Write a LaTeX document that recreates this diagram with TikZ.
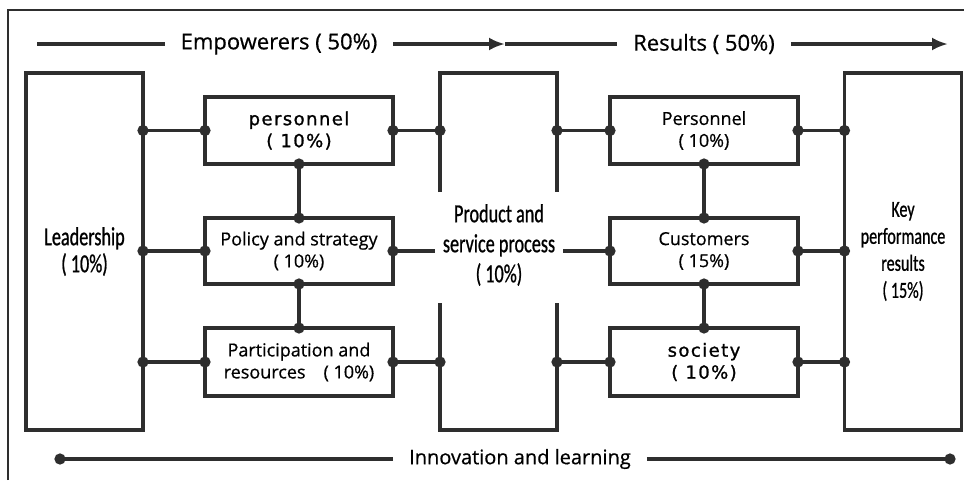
\documentclass[tikz,border=0pt]{standalone}
\usepackage{fontspec}
\setmainfont[FakeBold=0.6]{Open Sans}
\newfontfamily\widefont[LetterSpace=8,FakeBold=1.2]{DejaVu Sans}
\newfontfamily\narrowfont[FakeStretch=0.7,FakeBold=0.8]{Carlito}
\usetikzlibrary{positioning,calc,arrows.meta}
\definecolor{linegray}{HTML}{2E2E2E}

\tikzset{
  box/.style={draw=linegray, line width=3.2pt, minimum width=188pt, minimum height=67pt,
    inner sep=0pt, outer sep=0pt, align=center, font=\fontsize{18}{22}\selectfont},
  tall/.style={draw=linegray, line width=3.2pt, minimum width=117pt, minimum height=357pt,
    inner sep=0pt, outer sep=0pt, align=center, font=\narrowfont\fontsize{26}{27}\selectfont},
  title/.style={inner xsep=16pt, inner ysep=0pt, outer sep=0pt, font=\fontsize{22}{26}\selectfont},
  wall/.style={draw=linegray, line width=3.2pt},
  link/.style={draw=linegray, line width=3.2pt, {Circle[length=11pt]}-{Circle[length=11pt]},
    shorten <=-5.5pt, shorten >=-5.5pt},
  linkout/.style={draw=linegray, line width=3.2pt, {Circle[length=11pt]}-, shorten <=-5.5pt},
  linkin/.style={draw=linegray, line width=3.2pt, -{Circle[length=11pt]}, shorten >=-5.5pt},
  flow/.style={draw=linegray, line width=3.2pt, -{Latex[length=16pt,width=13pt]}},
}

\begin{document}
\begin{tikzpicture}[x=1pt,y=-1pt]
\useasboundingbox (0,0) rectangle (964,480);

% page frame
\draw[linegray, line width=1.6pt] (8,480) -- (8,10) -- (964,10);

% headings
\node[title] (empw) at (279,44) {Empowerers ( 50\%)};
\node[title] (res) at (704,44) {Results ( 50\%)};
\node[title, font=\fontsize{20}{24}\selectfont] (innov) at (520,459) {Innovation and learning};

\coordinate (topL) at (37,44);
\coordinate (midA) at (505,44);
\coordinate (topR) at (948,44);
\coordinate (innL) at (60,459);
\coordinate (innR) at (950,459);

\draw[wall] (topL) -- (empw.west);
\draw[flow] (empw.east) -- (midA);
\draw[wall] (midA) -- (res.west);
\draw[flow] (res.east) -- (topR);
\draw[linkin] (innov.west) -- (innL);
\draw[linkin] (innov.east) -- (innR);

% outer columns
\node[tall] (lead) at (84.5,251.5) {Leadership\\( 10\%)};
\node[tall, font=\narrowfont\fontsize{23}{27}\selectfont] (kpr) at (903,251.5)
  {Key\\performance\\results\\( 15\%)};

% product column, open on both sides
\node[minimum width=117pt, minimum height=357pt, inner sep=0pt, outer sep=0pt] (prodbox) at (498.5,251.5) {};
\node[align=center, font=\narrowfont\fontsize{26}{30}\selectfont] (prod) at (499,245)
  {Product and\\service process\\( 10\%)};
\draw[wall] ($(prodbox.north west)+(0,119)$) -- (prodbox.north west)
  -- (prodbox.north east) -- ($(prodbox.north east)+(0,119)$);
\draw[wall] ($(prodbox.south west)-(0,127)$) -- (prodbox.south west)
  -- (prodbox.south east) -- ($(prodbox.south east)-(0,127)$);

% empowerers
\node[box, font=\widefont\fontsize{18}{22}\selectfont] (pers) at (299,130.5) {personnel\\( 10\%)};
\node[box, minimum height=66pt] (policy) at (299,251) {Policy and strategy\\( 10\%)};
\node[box, minimum height=68pt] (partic) at (299,362) {Participation and\\resources\quad( 10\%)};

% results
\node[box] (persR) at (704,130.5) {Personnel\\( 10\%)};
\node[box, minimum height=66pt] (cust) at (704,251) {Customers\\( 15\%)};
\node[box, minimum height=68pt, font=\widefont\fontsize{18}{22}\selectfont] (soc) at (704,362) {society\\( 10\%)};

\coordinate (polend) at (435,251);
\coordinate (custin) at (563,251);

% links
\foreach \b in {pers,policy,partic}{
  \draw[link] (lead.east |- \b.west) -- (\b.west);
}
\draw[link] (pers.east) -- (pers.east -| prodbox.west);
\draw[linkout] (policy.east) -- (polend);
\draw[link] (partic.east) -- (partic.east -| prodbox.west);
\draw[link] (prodbox.east |- persR.west) -- (persR.west);
\draw[linkin] (custin) -- (cust.west);
\draw[link] (prodbox.east |- soc.west) -- (soc.west);
\foreach \b in {persR,cust,soc}{
  \draw[link] (\b.east) -- (\b.east -| kpr.west);
}
\draw[link] (pers.south) -- (policy.north);
\draw[link] (policy.south) -- (partic.north);
\draw[link] (persR.south) -- (cust.north);
\draw[link] (cust.south) -- (soc.north);

\end{tikzpicture}
\end{document}
